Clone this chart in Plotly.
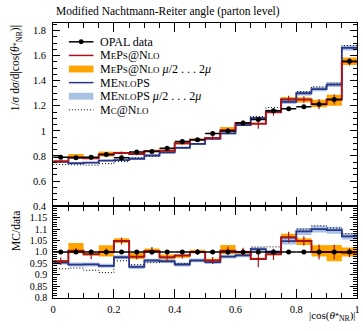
import plotly.graph_objects as go

W, H = 363, 331

# ---------------- data ----------------
edges = [round(0.05 * i, 2) for i in range(21)]
centers = [round(0.025 + 0.05 * i, 3) for i in range(20)]

opal = [0.790, 0.785, 0.790, 0.812, 0.785, 0.832, 0.835, 0.862, 0.915, 0.930,
        0.980, 1.000, 1.062, 1.090, 1.160, 1.176, 1.193, 1.212, 1.250, 1.555]
opal_err = [0.005] * 20

meps = [0.758, 0.789, 0.782, 0.812, 0.823, 0.815, 0.839, 0.842, 0.901, 0.930,
        0.944, 1.005, 1.062, 1.057, 1.148, 1.252, 1.250, 1.212, 1.250, 1.550]
meps_err = [0.013, 0.010, 0.016, 0.012, 0.012, 0.010, 0.014, 0.015, 0.012, 0.012,
            0.015, 0.018, 0.020, 0.040, 0.028, 0.028, 0.025, 0.040, 0.040, 0.030]
meps_lo = [0.754, 0.781, 0.778, 0.796, 0.816, 0.807, 0.831, 0.836, 0.892, 0.925,
           0.936, 0.990, 1.051, 1.052, 1.143, 1.223, 1.229, 1.188, 1.200, 1.524]
meps_hi = [0.762, 0.816, 0.786, 0.836, 0.832, 0.828, 0.848, 0.853, 0.906, 0.939,
           0.951, 1.030, 1.067, 1.063, 1.154, 1.270, 1.265, 1.248, 1.288, 1.585]

menlops = [0.753, 0.742, 0.747, 0.763, 0.767, 0.778, 0.804, 0.828, 0.865, 0.896,
           0.937, 0.980, 1.046, 1.104, 1.160, 1.232, 1.300, 1.333, 1.369, 1.661]
menlops_lo = [0.747, 0.735, 0.740, 0.756, 0.760, 0.770, 0.797, 0.820, 0.857, 0.888,
              0.929, 0.972, 1.038, 1.095, 1.150, 1.215, 1.282, 1.315, 1.350, 1.640]
menlops_hi = [0.759, 0.749, 0.754, 0.770, 0.774, 0.786, 0.811, 0.836, 0.873, 0.904,
              0.945, 0.988, 1.054, 1.113, 1.170, 1.249, 1.318, 1.351, 1.388, 1.682]

mcnlo = [0.732, 0.730, 0.727, 0.739, 0.755, 0.786, 0.796, 0.824, 0.869, 0.893,
         0.943, 0.980, 1.049, 1.114, 1.186, 1.247, 1.312, 1.351, 1.381, 1.679]

main_ticks = [0.4, 0.6, 0.8, 1.0, 1.2, 1.4, 1.6, 1.8]
main_ticktext = ["0.4", "0.6", "0.8", "1", "1.2", "1.4", "1.6", "1.8"]
ratio_ticks = [0.8, 0.85, 0.9, 0.95, 1.0, 1.05, 1.1, 1.15]
ratio_ticktext = ["0.8", "0.85", "0.9", "0.95", "1.0", "1.05", "1.1", "1.15"]
x_ticks = [0, 0.2, 0.4, 0.6, 0.8, 1.0]
x_ticktext = ["0", "0.2", "0.4", "0.6", "0.8", "1"]

# ---------------- style ----------------
FONT = "Liberation Serif"
RED = "#a8141b"
BLUE = "#2a3489"
ORANGE = "#ffa500"
LBLUE = "#a9c1e2"
DOTS = "1px,2px"


def px(x):
    return x / W


def py(y):
    return 1 - y / H


def step(vals):
    return list(edges), list(vals) + [vals[-1]]


def band(lo, hi):
    xs, ys = [], []
    for i in range(20):
        xs += [edges[i], edges[i + 1]]
        ys += [hi[i], hi[i]]
    for i in reversed(range(20)):
        xs += [edges[i + 1], edges[i]]
        ys += [lo[i], lo[i]]
    return xs, ys


def ratio(v):
    return [a / b for a, b in zip(v, opal)]


fig = go.Figure()

panels = [("x", "y", False), ("x2", "y2", True)]
for xa, ya, is_ratio in panels:
    f = ratio if is_ratio else (lambda v: list(v))
    bx, by = band(f(meps_lo), f(meps_hi))
    fig.add_trace(go.Scatter(x=bx, y=by, fill="toself", fillcolor=ORANGE,
                             line=dict(width=0), mode="lines", hoverinfo="skip",
                             showlegend=False, xaxis=xa, yaxis=ya))
    bx, by = band(f(menlops_lo), f(menlops_hi))
    fig.add_trace(go.Scatter(x=bx, y=by, fill="toself", fillcolor=LBLUE,
                             line=dict(width=0), mode="lines", hoverinfo="skip",
                             showlegend=False, xaxis=xa, yaxis=ya))
    sx, sy = step(f(mcnlo))
    fig.add_trace(go.Scatter(x=sx, y=sy, mode="lines", line_shape="hv",
                             line=dict(color="black", width=1, dash=DOTS),
                             showlegend=False, xaxis=xa, yaxis=ya))
    sx, sy = step(f(menlops))
    fig.add_trace(go.Scatter(x=sx, y=sy, mode="lines", line_shape="hv",
                             line=dict(color=BLUE, width=1.8),
                             showlegend=False, xaxis=xa, yaxis=ya))
    sx, sy = step(f(meps))
    fig.add_trace(go.Scatter(x=sx, y=sy, mode="lines", line_shape="hv",
                             line=dict(color=RED, width=2),
                             showlegend=False, xaxis=xa, yaxis=ya))
    merr = [e / d for e, d in zip(meps_err, opal)] if is_ratio else meps_err
    fig.add_trace(go.Scatter(x=centers, y=f(meps), mode="markers",
                             marker=dict(size=1, color=RED),
                             error_y=dict(type="data", array=merr, color=RED,
                                          thickness=1.2, width=0),
                             showlegend=False, xaxis=xa, yaxis=ya))
    derr = [e / d for e, d in zip(opal_err, opal)] if is_ratio else opal_err
    fig.add_trace(go.Scatter(x=centers, y=f(opal), mode="markers",
                             marker=dict(size=5, color="black"),
                             error_x=dict(type="constant", value=0.025, color="black",
                                          thickness=1.5, width=0),
                             error_y=dict(type="data", array=derr, color="black",
                                          thickness=1.2, width=0),
                             showlegend=False, xaxis=xa, yaxis=ya))

XDOM = [px(51), px(360)]
MAIN_DOM = [py(210), py(23.5)]
RATIO_DOM = [py(303.3), py(210)]

tickfont = dict(family=FONT, size=10.5, color="black")
common_x = dict(range=[0, 1], domain=XDOM, showline=True, mirror="allticks",
                linecolor="black", linewidth=1, ticks="inside", ticklen=9,
                tickcolor="black", tickwidth=1, tickvals=x_ticks, ticktext=x_ticktext,
                minor=dict(dtick=0.05, ticks="inside", ticklen=4.5, tickcolor="black"),
                showgrid=False, zeroline=False, tickfont=tickfont)

fig.update_layout(
    width=W, height=H, margin=dict(l=0, r=0, t=0, b=0),
    paper_bgcolor="white", plot_bgcolor="white", showlegend=False,
    font=dict(family=FONT, color="black", size=11),
    xaxis=dict(common_x, anchor="y", showticklabels=False),
    xaxis2=dict(common_x, anchor="y2", matches="x", showticklabels=True,
                ticklabelstandoff=2),
    yaxis=dict(domain=MAIN_DOM, range=[0.4, 1.859], anchor="x", showline=True,
               mirror="allticks", linecolor="black", linewidth=1, ticks="inside",
               ticklen=7, tickcolor="black", tickvals=main_ticks, ticktext=main_ticktext,
               minor=dict(dtick=0.05, ticks="inside", ticklen=4, tickcolor="black"),
               showgrid=False, zeroline=False, tickfont=tickfont, ticklabelstandoff=4),
    yaxis2=dict(domain=RATIO_DOM, range=[0.8, 1.2], anchor="x2", showline=True,
                mirror="allticks", linecolor="black", linewidth=1, ticks="inside",
                ticklen=7, tickcolor="black", tickvals=ratio_ticks, ticktext=ratio_ticktext,
                minor=dict(dtick=0.01, ticks="inside", ticklen=4, tickcolor="black"),
                showgrid=False, zeroline=False,
                tickfont=dict(family=FONT, size=10, color="black"), ticklabelstandoff=3),
)

STAR = "<span style='font-size:8px'>*</span>"
ann = []
ann.append(dict(x=px(52), y=py(12), xref="paper", yref="paper", xanchor="left",
                yanchor="middle", showarrow=False,
                text="Modified Nachtmann-Reiter angle (parton level)",
                font=dict(family=FONT, size=11.5)))
ann.append(dict(x=px(13), y=py(24), xref="paper", yref="paper", xanchor="center",
                yanchor="top", showarrow=False, textangle=-90,
                text=f"1/<i>σ</i> d<i>σ</i>/d|cos(<i>θ</i>{STAR}<sub>NR</sub>)|",
                font=dict(family=FONT, size=11.5)))
ann.append(dict(x=px(13), y=py(213), xref="paper", yref="paper", xanchor="center",
                yanchor="top", showarrow=False, textangle=-90,
                text="MC/data", font=dict(family=FONT, size=11.5)))
ann.append(dict(x=px(361), y=py(331), xref="paper", yref="paper", xanchor="right",
                yanchor="bottom", showarrow=False,
                text=f"|cos(<i>θ</i>{STAR}<sub>NR</sub>)|",
                font=dict(family=FONT, size=11)))

SC = "<span style='font-size:9px'>"
E = "</span>"
MEPS_TXT = f"M{SC}E{E}P{SC}S{E}@N{SC}LO{E}"
MENLO_TXT = f"ME{SC}NLO{E}PS"
MCNLO_TXT = f"M{SC}C{E}@N{SC}LO{E}"
SCALE_TXT = " <i>μ</i>/2 . . . 2<i>μ</i>"
legend_items = [
    ("data", "OPAL data"),
    ("red", MEPS_TXT),
    ("orange", MEPS_TXT + SCALE_TXT),
    ("blue", MENLO_TXT),
    ("lblue", MENLO_TXT + SCALE_TXT),
    ("dot", MCNLO_TXT),
]
shapes = []
x0, x1, xt = 67, 92, 97
for i, (kind, txt) in enumerate(legend_items):
    yy = 42.6 + 13.85 * i
    if kind in ("orange", "lblue"):
        col = ORANGE if kind == "orange" else LBLUE
        shapes.append(dict(type="rect", xref="paper", yref="paper",
                           x0=px(x0), x1=px(x1), y0=py(yy + 3.5), y1=py(yy - 3.5),
                           fillcolor=col, line=dict(width=0)))
    else:
        col = {"data": "black", "red": RED, "blue": BLUE, "dot": "black"}[kind]
        dash = DOTS if kind == "dot" else "solid"
        wid = 1 if kind == "dot" else 1.5
        shapes.append(dict(type="line", xref="paper", yref="paper",
                           x0=px(x0), x1=px(x1), y0=py(yy), y1=py(yy),
                           line=dict(color=col, width=wid, dash=dash)))
        if kind == "data":
            cx = (x0 + x1) / 2
            shapes.append(dict(type="circle", xref="paper", yref="paper",
                               x0=px(cx - 2.5), x1=px(cx + 2.5),
                               y0=py(yy + 2.5), y1=py(yy - 2.5),
                               fillcolor="black", line=dict(width=0)))
    ann.append(dict(x=px(xt), y=py(yy), xref="paper", yref="paper", xanchor="left",
                    yanchor="middle", showarrow=False, text=txt,
                    font=dict(family=FONT, size=12)))

fig.update_layout(annotations=ann, shapes=shapes)
fig.write_html("out.html")
